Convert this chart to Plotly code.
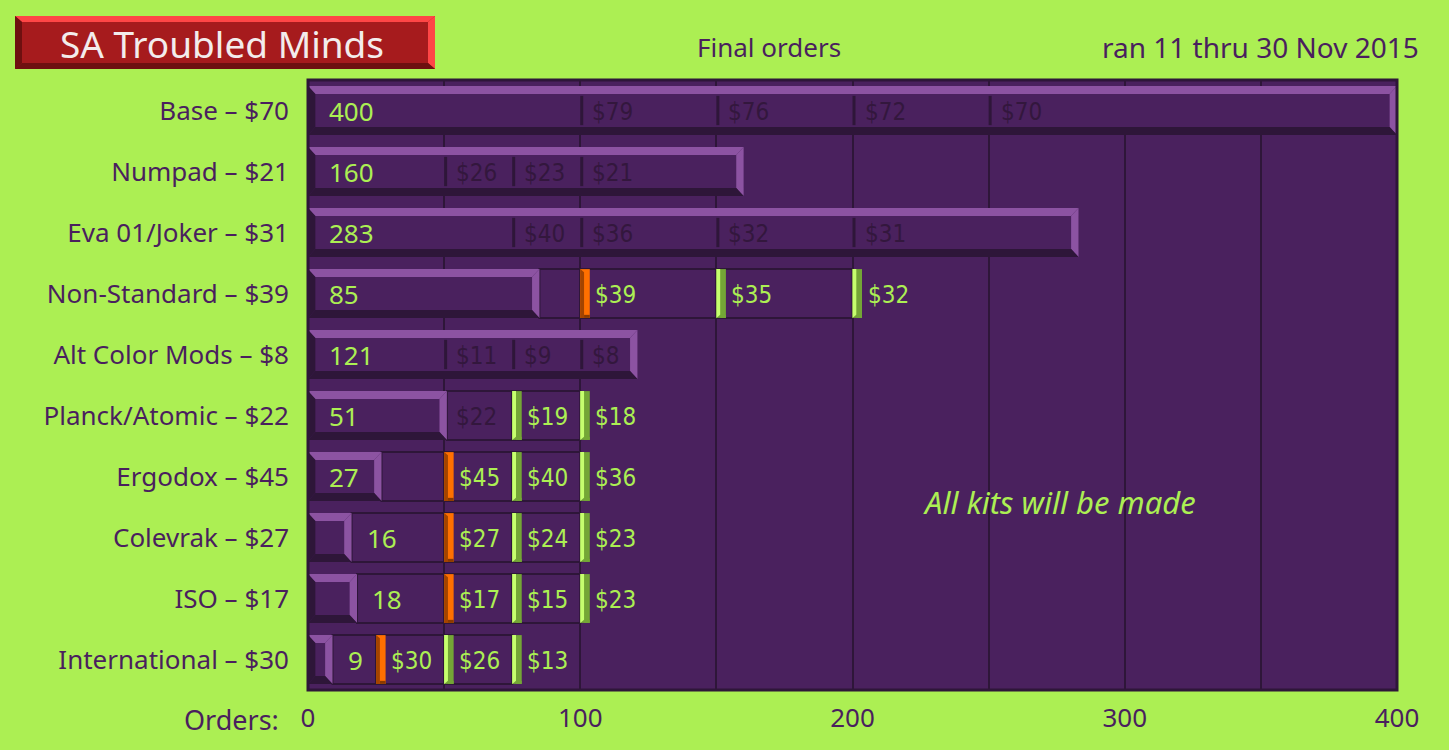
import plotly.graph_objects as go

# =========================================================
# DATA
# =========================================================
kits = [
    "Base – $70", "Numpad – $21", "Eva 01/Joker – $31", "Non-Standard – $39",
    "Alt Color Mods – $8", "Planck/Atomic – $22", "Ergodox – $45",
    "Colevrak – $27", "ISO – $17", "International – $30",
]
orders = [400, 160, 283, 85, 121, 51, 27, 16, 18, 9]
tier_qty = [
    [100, 150, 200, 250], [50, 75, 100], [75, 100, 150, 200], [100, 150, 200],
    [50, 75, 100], [50, 75, 100], [50, 75, 100], [50, 75, 100], [50, 75, 100],
    [25, 50, 75],
]
tier_price = [
    [79, 76, 72, 70], [26, 23, 21], [40, 36, 32, 31], [39, 35, 32],
    [11, 9, 8], [22, 19, 18], [45, 40, 36], [27, 24, 23], [17, 15, 23],
    [30, 26, 13],
]
x_ticks = [0, 100, 200, 300, 400]

# =========================================================
# STYLE
# =========================================================
W, H = 1449, 750
M_L, M_R, M_T, M_B = 308, 52, 80, 60
PW, PH = W - M_L - M_R, H - M_T - M_B

LIME = "#ACEF53"
FACE = "#4A215E"
LIGHT = "#8C53A2"
DARK = "#2E1639"
LABEL = "#4A1F5E"
PRICE_DARK = "#33173D"
FONT = "Noto Sans, Open Sans, sans-serif"
NARROW = "DejaVu Sans, sans-serif"

BAR_W = 0.8
BX = 2.7      # bevel thickness, x units
BY = 0.13     # bevel thickness, y units
MK = 3.5      # marker width, x units


def ppx(xp):
    return (xp - M_L) / PW


def ppy(yp):
    return (H - M_B - yp) / PH


def path(pts):
    return "M " + " L ".join(f"{a},{b}" for a, b in pts) + " Z"


def poly(pts, color, ref="x"):
    r = dict(xref="x", yref="y") if ref == "x" else dict(xref="paper", yref="paper")
    return dict(type="path", path=path(pts), fillcolor=color, line=dict(width=0), **r)


def bevel(x0, x1, yt, yb, bx, by, face, light, dark, ref="x"):
    return [
        poly([(x0, yt), (x1, yt), (x1, yb), (x0, yb)], face, ref),
        poly([(x0, yt), (x1, yt), (x1 - bx, yt + by), (x0 + bx, yt + by)], light, ref),
        poly([(x1, yt), (x1, yb), (x1 - bx, yb - by), (x1 - bx, yt + by)], light, ref),
        poly([(x0, yb), (x1, yb), (x1 - bx, yb - by), (x0 + bx, yb - by)], dark, ref),
        poly([(x0, yt), (x0 + bx, yt + by), (x0 + bx, yb - by), (x0, yb)], dark, ref),
    ]


def narrow(txt):
    return f'<span style="font-stretch:condensed">{txt}</span>'


rows = list(range(len(kits)))

fig = go.Figure()
fig.add_trace(go.Bar(
    x=orders, y=rows, orientation="h", width=BAR_W,
    marker=dict(color=FACE, line=dict(width=0)),
    hoverinfo="skip", showlegend=False,
))

shapes = []
annotations = []

for i, (n, qs, ps) in enumerate(zip(orders, tier_qty, tier_price)):
    yt, yb = i - BAR_W / 2, i + BAR_W / 2

    # boxes for tiers not reached yet
    pts = sorted(set([n] + qs))
    for a, b in zip(pts[:-1], pts[1:]):
        if a >= n:
            shapes.append(dict(type="rect", xref="x", yref="y", x0=a, x1=b, y0=yt, y1=yb,
                               fillcolor=FACE, line=dict(color=DARK, width=2)))

    # the bar bevel
    shapes += bevel(0, n, yt, yb, BX, BY, "rgba(0,0,0,0)", LIGHT, DARK)

    for k, (q, p) in enumerate(zip(qs, ps)):
        if q <= n:
            if q < n - 1:
                shapes.append(dict(type="rect", xref="x", yref="y", x0=q, x1=q + 1.1,
                                   y0=yt + BY + 0.03, y1=yb - BY - 0.03,
                                   fillcolor=DARK, line=dict(width=0)))
            annotations.append(dict(x=q, y=i, xref="x", yref="y", text=narrow(f"${p}"),
                                    xanchor="left", yanchor="middle", xshift=10, yshift=-1,
                                    showarrow=False,
                                    font=dict(family=NARROW, size=24, color=PRICE_DARK)))
        else:
            if k == 0:
                hi, lo = "#FF7000", "#A34400"
                shapes.append(poly([(q, yt), (q + MK, yt), (q + MK, yb), (q, yb)], hi))
                shapes.append(poly([(q, yt), (q + MK * 0.4, yt + 0.05), (q + MK * 0.4, yb), (q, yb)], lo))
            else:
                hi, lo = "#C6FF6E", "#74A636"
                shapes.append(poly([(q, yt), (q + MK, yt), (q + MK, yb), (q, yb)], lo))
                shapes.append(poly([(q, yt), (q + MK * 0.4, yt), (q + MK * 0.4, yb - 0.05), (q, yb)], hi))
            shapes.append(poly([(q + MK * 0.4, yb - 0.05), (q + MK, yb - 0.05), (q + MK, yb), (q + MK * 0.4, yb)], lo if k else "#8A3A00"))
            annotations.append(dict(x=q, y=i, xref="x", yref="y", text=narrow(f"${p}"),
                                    xanchor="left", yanchor="middle", xshift=13, yshift=-1,
                                    showarrow=False,
                                    font=dict(family=NARROW, size=24, color=LIME)))

    # order count
    if n >= 20:
        annotations.append(dict(x=0, y=i, xref="x", yref="y", text=str(n), xanchor="left",
                                yanchor="middle", xshift=19, showarrow=False,
                                font=dict(family=FONT, size=26, color=LIME)))
    else:
        annotations.append(dict(x=n, y=i, xref="x", yref="y", text=str(n), xanchor="left",
                                yanchor="middle", xshift=13, showarrow=False,
                                font=dict(family=FONT, size=26, color=LIME)))

# plot frame
shapes.append(dict(type="rect", xref="paper", yref="paper", x0=0, x1=1, y0=0, y1=1,
                   line=dict(color=DARK, width=3), fillcolor="rgba(0,0,0,0)"))

# title plate
tx0, tx1, ty0, ty1 = ppx(15), ppx(435), ppy(16), ppy(69)
tbx, tby = 7 / PW, 6 / PH
shapes = bevel(tx0, tx1, ty0, ty1, tbx, -tby, "#A61B1D", "#FF4646", "#6E1010", ref="paper") + shapes

annotations += [
    dict(x=ppx(222), y=ppy(43), xref="paper", yref="paper", text="SA Troubled Minds",
         xanchor="center", yanchor="middle", showarrow=False,
         font=dict(family=FONT, size=37, color="#F3ECEC")),
    dict(x=ppx(769), y=ppy(47), xref="paper", yref="paper", text="Final orders",
         xanchor="center", yanchor="middle", showarrow=False,
         font=dict(family=FONT, size=26, color=LABEL)),
    dict(x=ppx(1421), y=ppy(47), xref="paper", yref="paper", text="ran 11 thru 30 Nov 2015",
         xanchor="right", yanchor="middle", showarrow=False,
         font=dict(family=FONT, size=28, color=LABEL)),
    dict(x=ppx(281), y=ppy(719), xref="paper", yref="paper", text="Orders:",
         xanchor="right", yanchor="middle", showarrow=False,
         font=dict(family=FONT, size=27, color=LABEL)),
    dict(x=276, y=6.42, xref="x", yref="y", text="<i>All kits will be made</i>",
         xanchor="center", yanchor="middle", showarrow=False,
         font=dict(family=FONT, size=31, color=LIME)),
]

fig.update_layout(
    width=W, height=H,
    paper_bgcolor=LIME, plot_bgcolor=FACE,
    margin=dict(l=M_L, r=M_R, t=M_T, b=M_B),
    font=dict(family=FONT, size=26, color=LABEL),
    shapes=shapes, annotations=annotations,
    showlegend=False, bargap=0,
)
fig.update_xaxes(
    range=[0, 400], tickvals=x_ticks, ticktext=[str(v) for v in x_ticks],
    showgrid=True, gridcolor=DARK, gridwidth=2, zeroline=False,
    minor=dict(dtick=50, showgrid=True, gridcolor=DARK, gridwidth=2),
    ticks="", tickfont=dict(size=26, color=LABEL), ticklabelstandoff=10,
    fixedrange=True,
)
fig.update_yaxes(
    range=[len(kits) - 0.5, -0.5], tickvals=rows, ticktext=kits,
    showgrid=False, zeroline=False, ticks="",
    tickfont=dict(size=26, color=LABEL), ticklabelstandoff=18,
    fixedrange=True,
)

fig.write_html("out.html", config={"displayModeBar": False},
               post_script="document.body.style.margin='0';")
